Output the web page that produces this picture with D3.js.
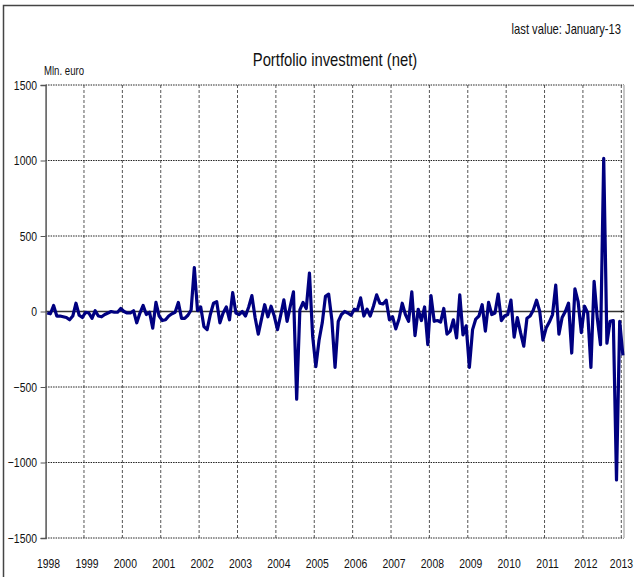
<!DOCTYPE html>
<html>
<head>
<meta charset="utf-8">
<script src="https://cdn.jsdelivr.net/npm/d3@7"></script>
<style>
  html, body { margin: 0; padding: 0; background: #fff; }
  svg { display: block; }
  text { font-family: "Liberation Sans", Arial, sans-serif; fill: #111; }
</style>
</head>
<body>
<svg id="chart" width="634" height="577"></svg>
<script>
// Monthly net portfolio investment, mln. euro (January 1998 – January 2013)
const v1998 = [-10, -15, 40, -30, -30, -35, -40, -55, -30, 55, -25, -40];
const v1999 = [-5, -10, -45, 5, -30, -35, -20, -10, 0, -5, -5, 20];
const v2000 = [0, -10, -10, 5, -75, -10, 40, -20, -5, -110, 60, -30];
const v2001 = [-60, -55, -30, -15, -5, 60, -45, -45, -25, 10, 290, 5];
const v2002 = [30, -100, -120, -20, 55, 65, -75, -10, 30, -55, 125, -10];
const v2003 = [-20, 0, -30, 30, 105, -40, -150, -50, 45, -35, 35, -30];
const v2004 = [-120, -25, 77, -65, 35, 130, -580, 10, 60, 20, 255, -165];
const v2005 = [-365, -190, -75, 100, 115, -55, -370, -65, -20, 0, -10, -25];
const v2006 = [15, 10, 90, -30, 15, -30, 35, 110, 55, 50, 75, -55];
const v2007 = [-35, -115, -50, 55, -20, -65, 130, -160, 15, -60, 30, -220];
const v2008 = [105, -65, -60, -70, 20, -150, -130, -55, -175, 110, -155, -95];
const v2009 = [-370, -120, -50, -30, 45, -130, 60, -20, -10, 115, -60, -30];
const v2010 = [-20, 75, -170, -40, -140, -230, -45, -30, 10, 75, 0, -190];
const v2011 = [-110, -70, -20, 175, -150, -40, 0, 55, -275, 150, 65, -140];
const v2012 = [35, -10, -370, 200, -45, -220, 1015, -210, -65, -60, -1115, -65];
const v2013 = [-290];

const firstYear = 1998;
const yearLabels = [1998, 1999, 2000, 2001, 2002, 2003, 2004, 2005, 2006, 2007, 2008, 2009, 2010, 2011, 2012, 2013];
const yTicks = [-1500, -1000, -500, 0, 500, 1000, 1500];

const titleText = "Portfolio investment  (net)";
const unitText = "Mln. euro";
const lastValueText = "last value: January-13";

const values = [v1998, v1999, v2000, v2001, v2002, v2003, v2004, v2005,
                v2006, v2007, v2008, v2009, v2010, v2011, v2012, v2013].flat();
// each month is placed at its mid-point on a fractional-year axis
const points = values.map((v, i) => ({ t: firstYear + (i + 0.5) / 12, v }));

const svg = d3.select("#chart");
const W = 634, H = 577;
const NARROW = 0.8; // horizontal squeeze giving a narrow sans face

const plot = { left: 45.6, right: 624, top: 85, bottom: 538 };

const x = d3.scaleLinear().domain([1998, 2013]).range([plot.left, 621.3]);
const y = d3.scaleLinear().domain([-1500, 1500]).range([plot.bottom, plot.top]);

// narrow text helper: positions by translate, then squeezes horizontally
function label(g, px, py, str, size, anchor) {
  return g.append("text")
    .attr("transform", `translate(${px},${py}) scale(${NARROW},1)`)
    .attr("text-anchor", anchor)
    .attr("font-size", size)
    .text(str);
}

// outer frame
svg.append("rect")
  .attr("x", 3.5).attr("y", 5.5)
  .attr("width", W + 20).attr("height", H + 20)
  .attr("fill", "none").attr("stroke", "#444").attr("stroke-width", 1.5);

// vertical year gridlines
svg.append("g")
  .selectAll("line")
  .data(yearLabels.slice(1))
  .join("line")
  .attr("x1", d => x(d)).attr("x2", d => x(d))
  .attr("y1", plot.top).attr("y2", plot.bottom)
  .attr("stroke", "#555").attr("stroke-width", 1)
  .attr("stroke-dasharray", "3,2");

// horizontal gridlines (zero line drawn separately)
svg.append("g")
  .selectAll("line")
  .data(yTicks.filter(d => d !== 0))
  .join("line")
  .attr("x1", plot.left).attr("x2", plot.right)
  .attr("y1", d => y(d)).attr("y2", d => y(d))
  .attr("stroke", "#222").attr("stroke-width", 1)
  .attr("stroke-dasharray", "1.5,1");

// right edge of the plot area
svg.append("line")
  .attr("x1", plot.right).attr("x2", plot.right)
  .attr("y1", plot.top).attr("y2", plot.bottom)
  .attr("stroke", "#c8c8c8").attr("stroke-width", 2);

// zero line
svg.append("line")
  .attr("x1", plot.left).attr("x2", plot.right)
  .attr("y1", y(0)).attr("y2", y(0))
  .attr("stroke", "#333").attr("stroke-width", 1.5);

// left axis: line and ticks from the axis generator, labels squeezed
const yAxis = d3.axisLeft(y).tickValues(yTicks).tickSize(5).tickFormat("");
const gy = svg.append("g").attr("transform", `translate(${plot.left},0)`).call(yAxis);
gy.select(".domain").attr("stroke", "#555").attr("stroke-width", 1.5);
gy.selectAll(".tick line").attr("stroke", "#555");
const yLab = svg.append("g");
yTicks.forEach(t => label(yLab, 37, y(t) + 4.5, d3.format("d")(t), 13, "end"));

// year labels along the bottom; the last one is kept inside the right edge
const xLab = svg.append("g");
const lastYear = yearLabels[yearLabels.length - 1];
yearLabels.forEach(yr => {
  if (yr === lastYear) label(xLab, W - 1, 568, String(yr), 13, "end");
  else label(xLab, x(yr) + 3, 568, String(yr), 13, "middle");
});

// data line
const line = d3.line().x(d => x(d.t)).y(d => y(d.v));
svg.append("path")
  .datum(points)
  .attr("d", line)
  .attr("fill", "none")
  .attr("stroke", "#000080")
  .attr("stroke-width", 3.2)
  .attr("stroke-linejoin", "round");

// titles
label(svg, 335, 66, titleText, 18.5, "middle");
label(svg, 621, 34, lastValueText, 14, "end");
label(svg, 44, 75, unitText, 12, "start");
</script>
</body>
</html>
